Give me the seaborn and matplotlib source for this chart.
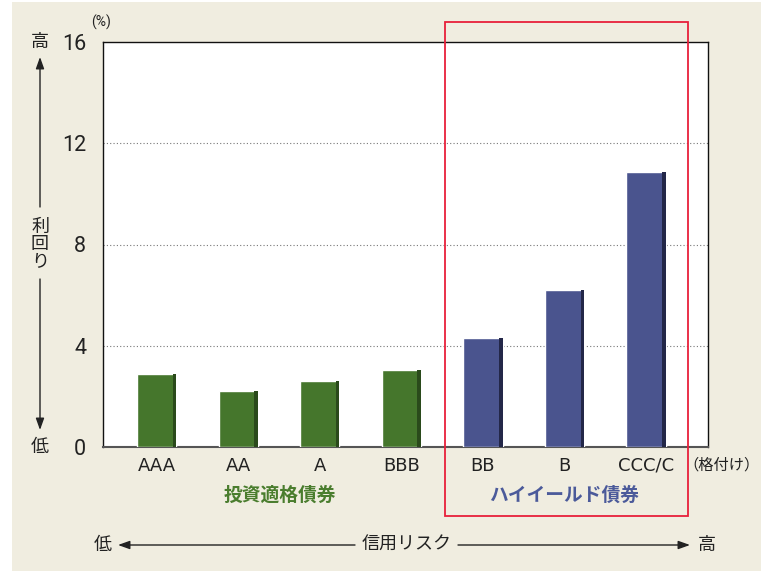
import matplotlib
matplotlib.use("Agg")
import matplotlib.pyplot as plt
import seaborn as sns
import pandas as pd
from matplotlib.patches import Rectangle, FancyArrowPatch

ratings = ["AAA", "AA", "A", "BBB", "BB", "B", "CCC/C"]
yields = [2.9, 2.2, 2.6, 3.05, 4.3, 6.2, 10.85]
groups = ["投資適格債券"] * 4 + ["ハイイールド債券"] * 3
yticks = [0, 4, 8, 12, 16]

sns.set_theme(style="white")
plt.rcParams['font.family'] = ['Noto Sans CJK JP', 'DejaVu Sans']

W, H = 768, 571
fig = plt.figure(figsize=(W / 100, H / 100), dpi=100)
fig.patch.set_facecolor("white")

def fx(x):
    return x / W

def fy(y):
    return 1 - y / H

BG = "#f0ede0"
fig.patches.append(Rectangle((fx(12), 0), fx(761) - fx(12), fy(2), transform=fig.transFigure,
                             facecolor=BG, edgecolor="none", zorder=-10))

ax = fig.add_axes([fx(103), fy(447), fx(708) - fx(103), fy(42) - fy(447)])
ax.set_facecolor("white")
ax.set_zorder(1)

df = pd.DataFrame({"rating": ratings, "yield": yields, "group": groups})
main_cols = {"投資適格債券": "#45762c", "ハイイールド債券": "#4a548e"}
dark_cols = {"投資適格債券": "#2a4a1b", "ハイイールド債券": "#232748"}
sns.barplot(data=df, x="rating", y="yield", hue="group", palette=main_cols, dodge=False,
            width=0.48, ax=ax, legend=False, saturation=1, zorder=3)

for p, g in zip(list(ax.patches), groups):
    x, w, h = p.get_x(), p.get_width(), p.get_height()
    ax.add_patch(Rectangle((x + w * 0.91, 0), w * 0.09, h, facecolor=dark_cols[g],
                           edgecolor="none", zorder=4))

ax.set_xlim(-0.66, 6.76)
ax.set_ylim(0, 16)
ax.set_yticks(yticks)
ax.set_yticklabels([str(v) for v in yticks], fontsize=15.5, color="#222222",
                   family=['Roboto', 'DejaVu Sans'])
ax.tick_params(axis="y", length=0, pad=12)
ax.tick_params(axis="x", length=0, pad=7)
ax.set_xticks(range(len(ratings)))
ax.set_xticklabels(ratings, fontsize=13, color="#222222", family=['DejaVu Sans'])
ax.set_xlabel("")
ax.set_ylabel("")
for v in yticks[1:-1]:
    ax.axhline(v, color="#777777", lw=0.8, ls=(0, (1, 2)), zorder=1)
for s in ax.spines.values():
    s.set_color("#111111")
    s.set_linewidth(1.0)
ax.spines["bottom"].set_color("#555555")
ax.spines["bottom"].set_linewidth(1.5)

# red frame around high-yield group
fig.patches.append(Rectangle((fx(445), fy(516)), fx(688) - fx(445), fy(22) - fy(516),
                             transform=fig.transFigure, facecolor="none",
                             edgecolor="#e8203a", lw=1.3, zorder=5))

txt = "#222222"
fig.text(fx(101), fy(22), "(%)", fontsize=10, color=txt, ha="center", va="center",
         family=['Roboto', 'DejaVu Sans'])
fig.text(fx(722), fy(465), "（格付け）", fontsize=11, color=txt, ha="center", va="center")
fig.text(fx(280), fy(495), "投資適格債券", fontsize=13.5, color="#4a7d2e", fontweight="bold",
         ha="center", va="center")
fig.text(fx(564), fy(495), "ハイイールド債券", fontsize=13.5, color="#4b5a9a", fontweight="bold",
         ha="center", va="center")

# left vertical indicator
fig.text(fx(40), fy(42), "高", fontsize=13, color=txt, ha="center", va="center")
fig.text(fx(40), fy(447), "低", fontsize=13, color=txt, ha="center", va="center")
fig.text(fx(40), fy(244), "利\n回\nり", fontsize=13, color=txt, ha="center", va="center",
         linespacing=0.95)
arrow_kw = dict(arrowstyle="-|>,head_length=0.7,head_width=0.25", color="#222222", lw=1.0,
                shrinkA=0, shrinkB=0, mutation_scale=10)
fig.add_artist(FancyArrowPatch((fx(40), fy(207)), (fx(40), fy(57)),
                               transform=fig.transFigure, **arrow_kw))
fig.add_artist(FancyArrowPatch((fx(40), fy(279)), (fx(40), fy(430)),
                               transform=fig.transFigure, **arrow_kw))

# bottom credit-risk indicator
fig.text(fx(103), fy(545), "低", fontsize=13, color=txt, ha="center", va="center")
fig.text(fx(707), fy(545), "高", fontsize=13, color=txt, ha="center", va="center")
fig.text(fx(407), fy(545), "信用リスク", fontsize=13, color=txt, ha="center", va="center")
fig.add_artist(FancyArrowPatch((fx(355), fy(545)), (fx(118), fy(545)),
                               transform=fig.transFigure, **arrow_kw))
fig.add_artist(FancyArrowPatch((fx(458), fy(545)), (fx(690), fy(545)),
                               transform=fig.transFigure, **arrow_kw))

fig.savefig("out.png", dpi=100, facecolor=fig.get_facecolor())
